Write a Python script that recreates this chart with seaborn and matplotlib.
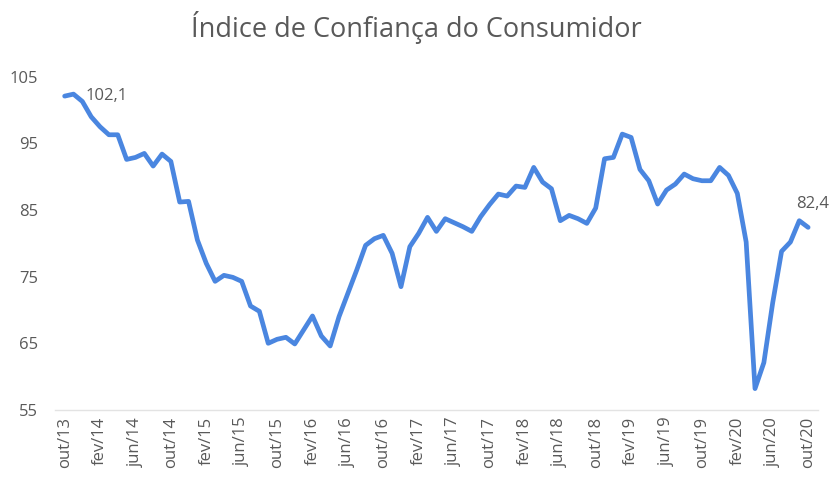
import pandas as pd
import seaborn as sns
import matplotlib.pyplot as plt

# monthly index values, out/13 .. out/20
months = ["jan", "fev", "mar", "abr", "mai", "jun", "jul", "ago", "set", "out", "nov", "dez"]
values = [
    102.1, 102.4, 101.3, 99.0, 97.5, 96.3, 96.3, 92.6, 92.9, 93.5, 91.6, 93.4,
    92.3, 86.2, 86.3, 80.5, 77.0, 74.3, 75.2, 74.9, 74.3, 70.6, 69.8, 65.0,
    65.6, 65.9, 64.9, 67.0, 69.1, 66.1, 64.6, 69.0, 72.5, 76.0, 79.7, 80.7,
    81.2, 78.5, 73.5, 79.5, 81.5, 83.9, 81.8, 83.7, 83.1, 82.5, 81.8, 84.0,
    85.8, 87.4, 87.1, 88.6, 88.4, 91.4, 89.2, 88.2, 83.4, 84.2, 83.7, 83.0,
    85.3, 92.7, 92.9, 96.4, 95.9, 91.1, 89.4, 85.9, 88.0, 88.9, 90.4, 89.7,
    89.4, 89.4, 91.4, 90.2, 87.5, 80.2, 58.2, 62.1, 71.1, 78.8, 80.2, 83.4,
    82.4,
]
start_month, start_year = 9, 13  # out/13

labels = []
for i in range(len(values)):
    m = (start_month + i) % 12
    y = start_year + (start_month + i) // 12
    labels.append(f"{months[m]}/{y}")

df = pd.DataFrame({"pos": range(len(values)), "icc": values, "mes": labels})

sns.set_theme(style="white")
plt.rcParams["font.family"] = ["Open Sans", "DejaVu Sans"]

fig = plt.figure(figsize=(8.32, 4.8), dpi=100)
ax = fig.add_axes([0.066, 0.146, 0.917, 0.694])

sns.lineplot(data=df, x="pos", y="icc", ax=ax, color="#4a86e0", linewidth=3.4)

ax.set_xlim(-1.1, 85.1)
ax.set_ylim(55, 105)
ax.set_yticks([55, 65, 75, 85, 95, 105])
tick_pos = list(range(0, len(values), 4))
ax.set_xticks(tick_pos)
ax.set_xticklabels([labels[i] for i in tick_pos], rotation=90)
ax.tick_params(axis="both", colors="#595959", labelsize=12, length=0)
ax.tick_params(axis="y", pad=12)
ax.tick_params(axis="x", pad=5)
ax.set_xlabel("")
ax.set_ylabel("")

for s in ["top", "right", "left"]:
    ax.spines[s].set_visible(False)
ax.spines["bottom"].set_color("#e3e3e3")
ax.spines["bottom"].set_linewidth(1)

grey = "#595959"
ax.annotate("102,1", (0, values[0]), xytext=(15, 0), textcoords="offset points",
            ha="left", va="center", color=grey, fontsize=12)
ax.annotate("82,4", (84, values[-1]), xytext=(3, 11), textcoords="offset points",
            ha="center", va="bottom", color=grey, fontsize=12)

fig.suptitle("Índice de Confiança do Consumidor", x=0.501, y=0.978, va="top",
             fontsize=19.5, color=grey)

plt.savefig("out.png", dpi=100)
